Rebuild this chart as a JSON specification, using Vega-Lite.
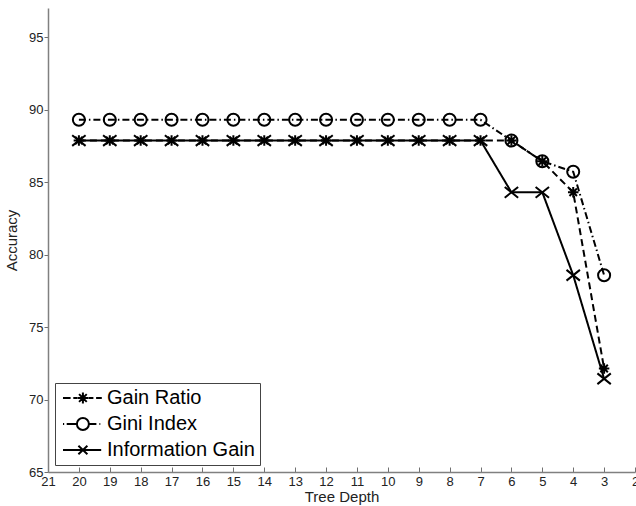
{
  "$schema": "https://vega.github.io/schema/vega-lite/v6.json",
  "width": 587,
  "height": 464,
  "autosize": {"type": "none"},
  "padding": {"left": 48, "top": 8, "right": 1, "bottom": 34},
  "background": "white",
  "config": {
    "view": {"stroke": null},
    "font": "Liberation Sans",
    "axis": {
      "grid": false,
      "domainColor": "#808080",
      "domainWidth": 1.5,
      "tickColor": "#707070",
      "tickWidth": 1,
      "labelFont": "Liberation Sans",
      "labelFontSize": 13,
      "labelColor": "#222222",
      "titleFont": "Liberation Sans",
      "titleFontSize": 15,
      "titleFontWeight": "normal",
      "titleColor": "#222222"
    }
  },
  "data": {
    "values": [
      {"depth": 20, "series": "Gain Ratio", "acc": 87.86},
      {"depth": 19, "series": "Gain Ratio", "acc": 87.86},
      {"depth": 18, "series": "Gain Ratio", "acc": 87.86},
      {"depth": 17, "series": "Gain Ratio", "acc": 87.86},
      {"depth": 16, "series": "Gain Ratio", "acc": 87.86},
      {"depth": 15, "series": "Gain Ratio", "acc": 87.86},
      {"depth": 14, "series": "Gain Ratio", "acc": 87.86},
      {"depth": 13, "series": "Gain Ratio", "acc": 87.86},
      {"depth": 12, "series": "Gain Ratio", "acc": 87.86},
      {"depth": 11, "series": "Gain Ratio", "acc": 87.86},
      {"depth": 10, "series": "Gain Ratio", "acc": 87.86},
      {"depth": 9, "series": "Gain Ratio", "acc": 87.86},
      {"depth": 8, "series": "Gain Ratio", "acc": 87.86},
      {"depth": 7, "series": "Gain Ratio", "acc": 87.86},
      {"depth": 6, "series": "Gain Ratio", "acc": 87.86},
      {"depth": 5, "series": "Gain Ratio", "acc": 86.43},
      {"depth": 4, "series": "Gain Ratio", "acc": 84.29},
      {"depth": 3, "series": "Gain Ratio", "acc": 72.14},
      {"depth": 20, "series": "Gini Index", "acc": 89.29},
      {"depth": 19, "series": "Gini Index", "acc": 89.29},
      {"depth": 18, "series": "Gini Index", "acc": 89.29},
      {"depth": 17, "series": "Gini Index", "acc": 89.29},
      {"depth": 16, "series": "Gini Index", "acc": 89.29},
      {"depth": 15, "series": "Gini Index", "acc": 89.29},
      {"depth": 14, "series": "Gini Index", "acc": 89.29},
      {"depth": 13, "series": "Gini Index", "acc": 89.29},
      {"depth": 12, "series": "Gini Index", "acc": 89.29},
      {"depth": 11, "series": "Gini Index", "acc": 89.29},
      {"depth": 10, "series": "Gini Index", "acc": 89.29},
      {"depth": 9, "series": "Gini Index", "acc": 89.29},
      {"depth": 8, "series": "Gini Index", "acc": 89.29},
      {"depth": 7, "series": "Gini Index", "acc": 89.29},
      {"depth": 6, "series": "Gini Index", "acc": 87.86},
      {"depth": 5, "series": "Gini Index", "acc": 86.43},
      {"depth": 4, "series": "Gini Index", "acc": 85.71},
      {"depth": 3, "series": "Gini Index", "acc": 78.57},
      {"depth": 20, "series": "Information Gain", "acc": 87.86},
      {"depth": 19, "series": "Information Gain", "acc": 87.86},
      {"depth": 18, "series": "Information Gain", "acc": 87.86},
      {"depth": 17, "series": "Information Gain", "acc": 87.86},
      {"depth": 16, "series": "Information Gain", "acc": 87.86},
      {"depth": 15, "series": "Information Gain", "acc": 87.86},
      {"depth": 14, "series": "Information Gain", "acc": 87.86},
      {"depth": 13, "series": "Information Gain", "acc": 87.86},
      {"depth": 12, "series": "Information Gain", "acc": 87.86},
      {"depth": 11, "series": "Information Gain", "acc": 87.86},
      {"depth": 10, "series": "Information Gain", "acc": 87.86},
      {"depth": 9, "series": "Information Gain", "acc": 87.86},
      {"depth": 8, "series": "Information Gain", "acc": 87.86},
      {"depth": 7, "series": "Information Gain", "acc": 87.86},
      {"depth": 6, "series": "Information Gain", "acc": 84.29},
      {"depth": 5, "series": "Information Gain", "acc": 84.29},
      {"depth": 4, "series": "Information Gain", "acc": 78.57},
      {"depth": 3, "series": "Information Gain", "acc": 71.43}
    ]
  },
  "encoding": {
    "x": {
      "field": "depth",
      "type": "quantitative",
      "title": "Tree Depth",
      "scale": {"domain": [2, 21], "reverse": true, "nice": false, "zero": false},
      "axis": {
        "values": [21, 20, 19, 18, 17, 16, 15, 14, 13, 12, 11, 10, 9, 8, 7, 6, 5, 4, 3, 2],
        "tickSize": -5,
        "labelPadding": 8,
        "labelOverlap": false,
        "labelFlush": false,
        "titlePadding": 1
      }
    },
    "y": {
      "field": "acc",
      "type": "quantitative",
      "title": "Accuracy",
      "scale": {"domain": [65, 97], "nice": false, "zero": false},
      "axis": {
        "values": [65, 70, 75, 80, 85, 90, 95],
        "tickSize": 4,
        "labelPadding": 1,
        "labelFlush": false,
        "labelOverlap": false,
        "titlePadding": 9
      }
    }
  },
  "layer": [
    {
      "mark": {"type": "line", "color": "black", "strokeWidth": 2},
      "encoding": {
        "detail": {"field": "series"},
        "strokeDash": {
          "field": "series",
          "type": "nominal",
          "scale": {
            "domain": ["Gain Ratio", "Gini Index", "Information Gain"],
            "range": [[7, 4], [7, 3, 1.5, 3], [1, 0]]
          },
          "legend": null
        }
      }
    },
    {
      "mark": {"type": "point", "filled": false, "stroke": "black", "strokeWidth": 2, "opacity": 1},
      "encoding": {
        "shape": {
          "field": "series",
          "type": "nominal",
          "scale": {
            "domain": ["Gain Ratio", "Gini Index", "Information Gain"],
            "range": [
              "M-1,0L1,0M0,-1L0,1M-0.71,-0.71L0.71,0.71M-0.71,0.71L0.71,-0.71",
              "circle",
              "M-1,-0.8L1,0.8M-1,0.8L1,-0.8"
            ]
          },
          "legend": null
        },
        "size": {
          "field": "series",
          "type": "nominal",
          "scale": {
            "domain": ["Gain Ratio", "Gini Index", "Information Gain"],
            "range": [110, 180, 90]
          },
          "legend": null
        }
      }
    },
    {
      "mark": {"type": "point", "filled": false, "stroke": "black", "strokeWidth": 2, "opacity": 0},
      "encoding": {
        "shape": {
          "field": "series",
          "type": "nominal",
          "scale": {
            "domain": ["Gain Ratio", "Gini Index", "Information Gain"],
            "range": [
              "M-1.17,0L0.1,0M0.55,0L1.2,0M1.25,0L3.05,0M2.15,-0.9L2.15,0.9M1.51,-0.64L2.79,0.64M1.51,0.64L2.79,-0.64M3.1,0L3.9,0M4.35,0L5.3,0",
              "M-1.17,0L-0.97,0M-0.55,0L1.15,0M3.15,0A1,1,0,1,1,1.15,0A1,1,0,1,1,3.15,0M3.15,0L4.4,0M4.9,0L5.05,0",
              "M-1.17,0L5.2,0M1.4,-0.7L2.9,0.7M1.4,0.7L2.9,-0.7"
            ]
          },
          "legend": {
            "title": null,
            "orient": "bottom-left",
            "offset": 7,
            "strokeColor": "#444444",
            "fillColor": "white",
            "padding": 5,
            "symbolSize": 144,
            "symbolStrokeWidth": 2,
            "symbolStrokeColor": "black",
            "symbolFillColor": "transparent",
            "symbolOpacity": 1,
            "labelFont": "Liberation Sans",
            "labelFontSize": 20,
            "labelColor": "black",
            "labelOffset": 27,
            "rowPadding": 5,
            "labelLimit": 300
          }
        }
      }
    }
  ],
  "resolve": {"scale": {"shape": "independent"}, "legend": {"shape": "independent"}}
}
